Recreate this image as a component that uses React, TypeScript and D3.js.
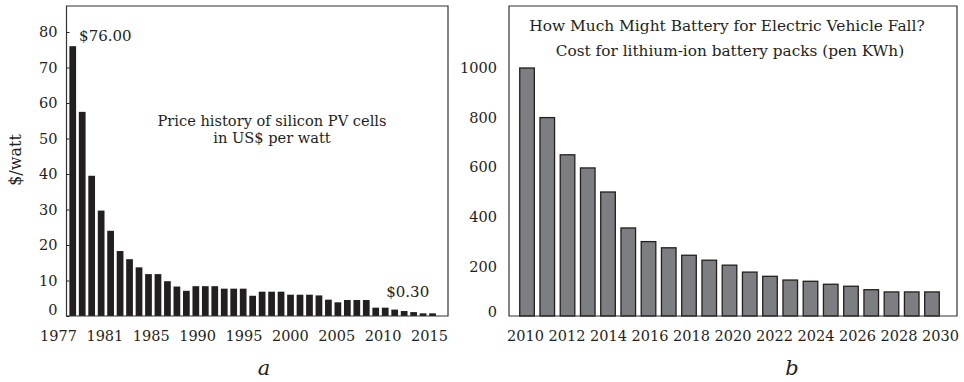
import * as d3 from "d3";
import { useRef, useEffect } from "react";

// panel a: silicon PV cell price, US$ per watt
const pvYears = [
    1977, 1978, 1979, 1980, 1981, 1982, 1983, 1984, 1985, 1986, 1987, 1988, 1989,
    1990, 1991, 1992, 1993, 1994, 1995, 1996, 1997, 1998, 1999, 2000, 2001, 2002,
    2003, 2004, 2005, 2006, 2007, 2008, 2009, 2010, 2011, 2012, 2013, 2014, 2015,
];
const pvPrice = [
    76, 57.5, 39.5, 29.7, 24, 18.3, 16, 13.7, 11.8, 11.8, 9.8, 8.3, 7.1,
    8.4, 8.4, 8.4, 7.7, 7.7, 7.7, 5.7, 6.85, 6.85, 6.85, 6.0, 6.0, 6.0,
    5.8, 4.6, 3.85, 4.5, 4.5, 4.5, 2.35, 2.35, 1.8, 1.4, 1.1, 0.75, 0.75,
];
const pvYTicks = [0, 10, 20, 30, 40, 50, 60, 70, 80];
const pvXLabels = ["1977", "1981", "1985", "1990", "1995", "2000", "2005", "2010", "2015"];

// panel b: lithium-ion pack cost per kWh
const evYears = [
    2010, 2011, 2012, 2013, 2014, 2015, 2016, 2017, 2018, 2019, 2020,
    2021, 2022, 2023, 2024, 2025, 2026, 2027, 2028, 2029, 2030,
];
const evCost = [
    1000, 800, 650, 597, 500, 355, 300, 275, 245, 225, 205,
    177, 160, 145, 140, 128, 120, 106, 97, 97, 97,
];
const evYTicks = [0, 200, 400, 600, 800, 1000];
const evXLabels = ["2010", "2012", "2014", "2016", "2018", "2020", "2022", "2024", "2026", "2028", "2030"];

const W = 964;
const H = 382;
const ink = "#231f20";
const serif = "'DejaVu Serif', serif";

export default function App() {
    const pvGy = useRef<SVGGElement>(null);
    const pvGx = useRef<SVGGElement>(null);
    const evGy = useRef<SVGGElement>(null);
    const evGx = useRef<SVGGElement>(null);

    // panel a frame
    const aL = 66.5, aR = 448, top = 6, base = 316;
    const xA = d3.scaleBand<number>(pvYears, [68, 437.3]).paddingInner(0.29).paddingOuter(0.145);
    const yA = d3.scaleLinear([0, 80], [base, 32]);
    const xLabA = d3.scalePoint(pvXLabels, [58, 429]);

    // panel b frame
    const bL = 509, bR = 957;
    const xB = d3.scaleBand<number>(evYears, [516.9, 942.1]).paddingInner(0.28).paddingOuter(0.14);
    const yB = d3.scaleLinear([0, 1000], [base, 68]);
    const xLabB = d3.scalePoint(evXLabels, [525, 940]);

    useEffect(() => {
        const style = (g: d3.Selection<SVGGElement, unknown, null, undefined>) => {
            g.attr("font-family", serif).attr("font-size", 14.5).style("color", ink);
            g.select(".domain").remove();
        };
        if (pvGy.current) {
            const g = d3.select(pvGy.current);
            g.call(d3.axisLeft(yA).tickValues(pvYTicks).tickSize(-3).tickPadding(9));
            style(g);
            g.selectAll<SVGTextElement, number>(".tick text").filter((d) => d === 0).attr("dy", "-0.08em");
        }
        if (pvGx.current) {
            const g = d3.select(pvGx.current);
            g.call(d3.axisBottom(xLabA).tickSize(0).tickPadding(15));
            style(g);
        }
        if (evGy.current) {
            const g = d3.select(evGy.current);
            g.call(d3.axisLeft(yB).tickValues(evYTicks).tickFormat(d3.format("d")).tickSize(0).tickPadding(12));
            style(g);
            g.selectAll<SVGTextElement, number>(".tick text").filter((d) => d === 0).attr("dy", "0.05em");
        }
        if (evGx.current) {
            const g = d3.select(evGx.current);
            g.call(d3.axisBottom(xLabB).tickSize(0).tickPadding(15));
            style(g);
        }
    }, []);

    return (
        <svg width={W} height={H} style={{ position: "absolute", left: 0, top: 0, background: "white" }}
            fontFamily={serif} fill={ink}>
            {/* a */}
            <g fill={ink}>
                {pvYears.map((yr, i) => (
                    <rect key={yr} x={xA(yr)} y={yA(pvPrice[i])} width={xA.bandwidth()} height={base - yA(pvPrice[i])} />
                ))}
            </g>
            <path d={`M${aL},${base}V${top}H${aR}V${base}Z`} fill="none" stroke="#333" strokeWidth={1.2} />
            <g ref={pvGy} transform={`translate(${aL},0)`} />
            <g ref={pvGx} transform={`translate(0,${base})`} />
            <text x={xA(1977)! + xA.bandwidth() + 3} y={yA(76) - 5.5} fontSize={15}>$76.00</text>
            <text x={xA(2015)!} y={yA(0) - 19} fontSize={15} textAnchor="end">$0.30</text>
            <text x={272} y={125.5} fontSize={14.6} textAnchor="middle">Price history of silicon PV cells</text>
            <text x={272} y={143} fontSize={14.6} textAnchor="middle">in US$ per watt</text>
            <text transform={`translate(21,160) rotate(-90)`} fontSize={16} textAnchor="middle">$/watt</text>
            <text x={264} y={375} fontSize={21} fontStyle="italic" textAnchor="middle">a</text>

            {/* b */}
            <g fill="#7d7e82" stroke={ink} strokeWidth={1.3}>
                {evYears.map((yr, i) => (
                    <rect key={yr} x={xB(yr)} y={yB(evCost[i])} width={xB.bandwidth()} height={base - yB(evCost[i])} />
                ))}
            </g>
            <path d={`M${bL},${base}V${top}H${bR}V${base}Z`} fill="none" stroke="#333" strokeWidth={1.2} />
            <g ref={evGy} transform={`translate(${bL},0)`} />
            <g ref={evGx} transform={`translate(0,${base})`} />
            <text x={727} y={31} fontSize={15.4} textAnchor="middle">How Much Might Battery for Electric Vehicle Fall?</text>
            <text x={730} y={56} fontSize={15.3} textAnchor="middle">Cost for lithium-ion battery packs (pen KWh)</text>
            <text x={792} y={375} fontSize={21} fontStyle="italic" textAnchor="middle">b</text>
        </svg>
    );
}
